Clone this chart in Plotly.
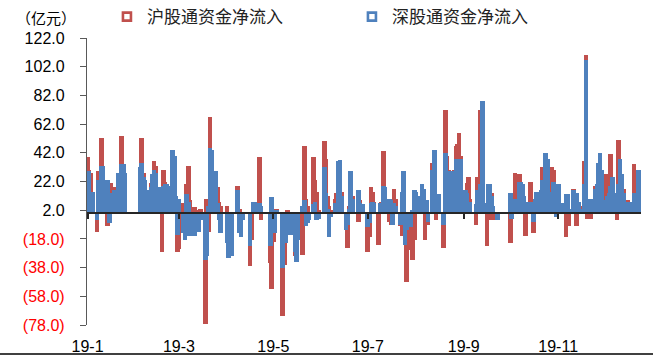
import pandas as pd
import plotly.graph_objects as go

# Daily net northbound inflow, 100 million CNY (亿元), one value per trading day
SH_NET = [
    # Jan (from Jan 8)
    39, 30, 28, 10, -13, 29, 20, 52, 30, -9, 5, 21, 15, 18, 18, 20, 54, 25,
    # Feb
    20, 30, 52, 28, 20, 10, 21, 15, 36, 33, 15, -27, 30, 22, 18,
    # Mar
    15, 30, 12, 11, -27, -25, 7, 7, 20, 33, 9, 4, -3, -2, 2, 3, -77, 10, -13, 67, 40,
    # Apr
    29, 18, 8, 5, 5, -24, -15, 1, 1, 19, 3, -15, -2, -37, -19, 6, 8, 39, -5,
    # May
    -35, -53, -20, -8, 3, -72, -36, -16, 2, -8, -12, -30, -28, 1, -29, 47, 10, 5, -3,
    # Jun
    39, 23, 15, 2, 50, 38, 12, 5, 2, 10, 14, 36, 30, 15, -12, -24, 5, 28, 12,
    # Jul
    -6, 9, 6, 4, -27, -17, 18, 15, 8, -22, 6, 8, 43, 12, -6, -8, 5, 17, 10, -9, -16, 5,
    # Aug
    -15, -48, -26, -33, -19, 10, 8, 17, 10, -19, 5, -8, 35, 13, -5, 12, 5, -24, 72, 40, 30, 25,
    # Sep
    30, 47, 48, 56, 40, 12, 21, 25, 10, -8, 25, 14, 72, 40, -23, 5, -5, 14, -5, -3,
    # Oct
    -21, 5, 10, 28, 27, 20, 15, 5, -16, 22, 5, -14, 5, 10, 16, 32, 20, 30,
    # Nov
    30, 32, 30, 10, 5, 18, 7, 5, -17, 8, -9, 17, 12, -9, 3, 5, 36, 110, -4, 5, -4,
    # Dec
    19, 15, 20, 25, 15, 27, 15, 10, 41, 20, -5, 51, 30, 25, 17, 9, 8, 34, 20, 10,
]

SZ_NET = [
    # Jan (from Jan 8)
    29, 29, 15, 15, -5, 23, 23, 33, 33, 23, -7, 14, 14, 16, 28, 28, 34, 34,
    # Feb
    28, 32, 35, 25, 23, 16, 18, 27, 30, 28, 18, 18, 19, 20, 20,
    # Mar
    19, 44, 40, 12, -15, 10, -14, -19, 13, 8, -16, -16, -13, -13, -13, -5, -33, -30, 5, 45, 44,
    # Apr
    29, 7, -5, -14, -21, -31, -25, -30, 0, 16, -14, -17, -5, -23, 0, 8, 8, 7, 5,
    # May
    -23, 11, -14, -14, 2, -38, -21, -21, -15, -15, -10, -27, -34, -19, 5, 9, -9, -7, -5,
    # Jun
    6, 8, -5, -4, 32, 14, 3, -17, -3, 7, 7, 36, 37, 12, -12, -8, 3, 29, 10,
    # Jul
    16, 7, 5, 6, -10, -7, 7, 8, 7, 1, 7, 7, 19, 18, 10, 9, -8, 7, 5, -8, 15, 29,
    # Aug
    -22, -12, -10, 2, 16, 15, 12, 20, 17, 9, 9, -6, 30, 44, 13, 13, 13, -8, 42, 28, 28, 29,
    # Sep
    29, 38, 38, 26, 38, 16, 14, 8, 8, 6, 16, 16, 20, 78, 7, 20, 20, 12, 5, -5,
    # Oct
    14, -4, 10, 10, 22, 22, 20, 12, 8, 8, 8, -6, 10, 15, 16, 23, 23, 42,
    # Nov
    38, 15, 22, 20, -3, 20, 7, 7, 13, 13, 3, 16, 14, 14, 8, 3, 20, 107, 10, 10, 10,
    # Dec
    17, 20, 35, 42, 30, 9, 12, 14, 19, 25, 14, 20, 38, 27, 14, 8, 8, 14, 30, 28,
]

# Weekdays on which the Stock Connect northbound channel was closed
CLOSED_DAYS = [
    "2019-02-04", "2019-02-05", "2019-02-06", "2019-02-07", "2019-02-08",
    "2019-04-05", "2019-04-19", "2019-04-22",
    "2019-05-01", "2019-05-02", "2019-05-03", "2019-05-13",
    "2019-06-07", "2019-07-01", "2019-09-13",
    "2019-10-01", "2019-10-02", "2019-10-03", "2019-10-04", "2019-10-07",
    "2019-12-25", "2019-12-26",
]

SERIES_NAMES = ["沪股通资金净流入", "深股通资金净流入"]
TICK_DATES = ["2019-01-08", "2019-03-08", "2019-05-08", "2019-07-08", "2019-09-08", "2019-11-08"]
TICK_LABELS = ["19-1", "19-3", "19-5", "19-7", "19-9", "19-11"]
Y_TICKS = [-78, -58, -38, -18, 2, 22, 42, 62, 82, 102, 122]

RED = "#C0504D"
BLUE = "#4F81BD"
AXIS_DARK = "#262626"
CJK = "Noto Sans CJK SC"
LATIN = "Liberation Sans"

trade_days = [d for d in pd.bdate_range("2019-01-08", "2019-12-31")
              if d.strftime("%Y-%m-%d") not in CLOSED_DAYS]
assert len(trade_days) == len(SH_NET) == len(SZ_NET)


def y_label(v):
    if v < 0:
        return f"<span style='color:#FF0000'>({abs(v):.1f})</span>"
    return f"{v:.1f}"


X_RANGE = ["2019-01-07 15:00", "2019-12-31 12:00"]
BAR_WIDTH_MS = 3.0 * 24 * 3600 * 1000

fig = go.Figure()
fig.add_trace(go.Bar(x=trade_days, y=SH_NET, name=SERIES_NAMES[0], marker_color=RED,
                     marker_line_width=0, width=BAR_WIDTH_MS, showlegend=False))
fig.add_trace(go.Bar(x=trade_days, y=SZ_NET, name=SERIES_NAMES[1], marker_color=BLUE,
                     marker_line_width=0, width=BAR_WIDTH_MS, showlegend=False))

# Legend keys drawn as hollow squares
for name, col in zip(SERIES_NAMES, [RED, BLUE]):
    fig.add_trace(go.Scatter(x=[None], y=[None], mode="markers", name=name, xaxis="x2",
                             marker=dict(symbol="square-open", size=8, color=col,
                                         line=dict(width=2.6, color=col))))

fig.update_layout(
    width=653, height=356,
    margin=dict(l=87, r=12, t=38, b=31, autoexpand=False),
    paper_bgcolor="white", plot_bgcolor="white",
    barmode="overlay", bargap=0,
    font=dict(family=LATIN, size=16, color="black"),
    xaxis=dict(type="date", range=X_RANGE, tickvals=TICK_DATES, ticktext=TICK_LABELS,
               showline=False, showgrid=False, zeroline=False, ticks="",
               ticklabelstandoff=10, automargin=False,
               tickfont=dict(family=LATIN, size=16, color="black")),
    # horizontal axis line drawn through zero, with its own tick marks
    xaxis2=dict(type="date", range=X_RANGE, overlaying="x", anchor="free",
                position=78 / 200, tickvals=TICK_DATES, showticklabels=False,
                showline=True, linecolor=AXIS_DARK, linewidth=1.6,
                ticks="outside", ticklen=5, tickwidth=1.5, tickcolor=AXIS_DARK,
                showgrid=False, zeroline=False, layer="above traces", automargin=False),
    yaxis=dict(range=[-78, 122], tickvals=Y_TICKS, ticktext=[y_label(v) for v in Y_TICKS],
               showline=True, linecolor="#595959", linewidth=1.3,
               ticks="outside", ticklen=6, tickwidth=1.3, tickcolor="#595959",
               showgrid=False, zeroline=False, ticklabelstandoff=12, automargin=False,
               tickfont=dict(family=LATIN, size=16, color="black")),
    legend=dict(orientation="h", x=0.036, xanchor="left", y=1.073, yanchor="middle",
                font=dict(family=CJK, size=17, color="#222222"),
                entrywidth=200, entrywidthmode="pixels",
                itemwidth=30, bgcolor="rgba(0,0,0,0)"),
    annotations=[dict(text="（亿元）", xref="paper", yref="paper", x=-0.074, y=1.073,
                      xanchor="center", yanchor="middle", showarrow=False,
                      font=dict(family=CJK, size=15, color="black"))],
    shapes=[dict(type="line", xref="paper", yref="paper", x0=-0.16, x1=1.03,
                 y0=-0.101, y1=-0.101, line=dict(color="black", width=1.5))],
)

fig.write_html("out.html")
